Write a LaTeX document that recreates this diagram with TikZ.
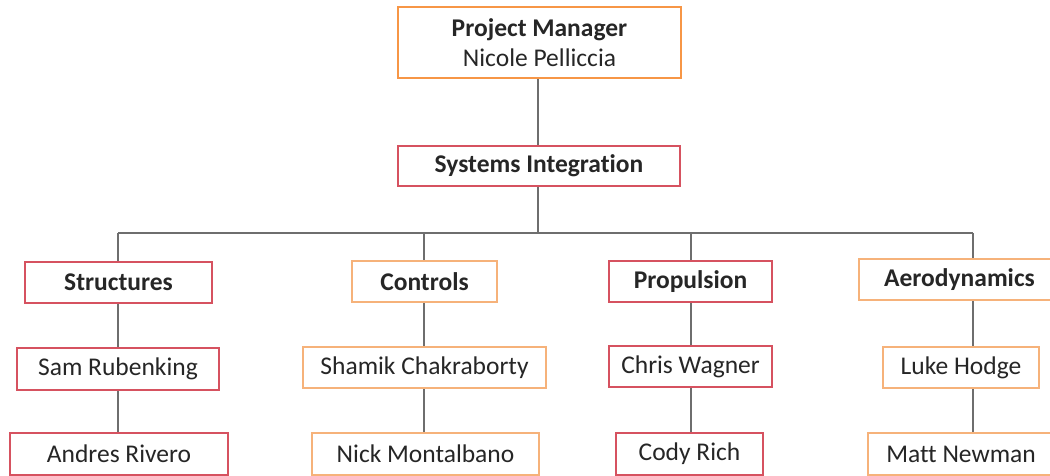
\documentclass[tikz,border=0pt]{standalone}
\usepackage{fontspec}
\setmainfont[Ligatures=NoCommon]{Carlito}
\definecolor{boxred}{RGB}{214,82,96}
\definecolor{boxorange}{RGB}{247,150,70}
\definecolor{lightorange}{RGB}{246,178,122}
\definecolor{linegray}{RGB}{110,110,110}
\begin{document}
\begin{tikzpicture}[x=1pt,y=-1pt,
  box/.style={draw, line width=2pt, fill=white, inner sep=0pt, align=center, text=black!85,
    font=\fontsize{25.5}{30}\selectfont},
  redbox/.style={box, draw=boxred},
  orbox/.style={box, draw=boxorange},
  lobox/.style={box, draw=lightorange},
  conn/.style={draw=linegray, line width=1.5pt}]
\useasboundingbox (0,0) rectangle (1050,476);
\clip (0,0) rectangle (1050,476);
% bus
\coordinate (busL) at (118,233);
\coordinate (busR) at (973,233);
\coordinate (busC) at (538,233);
\coordinate (colC) at (424,233);
\coordinate (colP) at (691,233);
% connectors first (behind boxes)
\draw[conn] (busL) -- (busR);
\draw[conn] (538,42) -- (busC);
\draw[conn] (busL) -- (118,454);
\draw[conn] (colC) -- (424,454);
\draw[conn] (colP) -- (691,454);
\draw[conn] (busR) -- (973,454);
% nodes
\node[orbox, minimum width=283pt, minimum height=71pt] (pm) at (539.5,42.5)
  {\textbf{Project Manager}\\Nicole Pelliccia};
\node[redbox, minimum width=282pt, minimum height=40pt] (si) at (539,166)
  {\textbf{Systems Integration}};
\node[redbox, minimum width=187pt, minimum height=41pt] (st) at (118.5,282.5) {\textbf{Structures}};
\node[redbox, minimum width=202pt, minimum height=42pt] (sam) at (118,369) {Sam Rubenking};
\node[redbox, minimum width=218pt, minimum height=42pt] (andres) at (119,454) {Andres Rivero};
\node[lobox, minimum width=145pt, minimum height=41pt] (ctrl) at (424.5,281.5) {\textbf{Controls}};
\node[lobox, minimum width=243pt, minimum height=41pt] (shamik) at (424.5,367.5) {Shamik Chakraborty};
\node[lobox, minimum width=227pt, minimum height=42pt] (nick) at (425.5,454) {Nick Montalbano};
\node[redbox, minimum width=163pt, minimum height=41pt] (prop) at (690.5,281.5) {\textbf{Propulsion}};
\node[redbox, minimum width=163pt, minimum height=41pt] (chris) at (690.5,366.5) {Chris Wagner};
\node[redbox, minimum width=147pt, minimum height=42pt] (cody) at (689.5,454) {Cody Rich};
\node[lobox, minimum width=201pt, minimum height=41pt] (aero) at (959.5,279.5) {\textbf{Aerodynamics}};
\node[lobox, minimum width=156pt, minimum height=41pt] (luke) at (961,367.5) {Luke Hodge};
\node[lobox, minimum width=186pt, minimum height=42pt] (matt) at (961,454) {Matt Newman};
\end{tikzpicture}
\end{document}
